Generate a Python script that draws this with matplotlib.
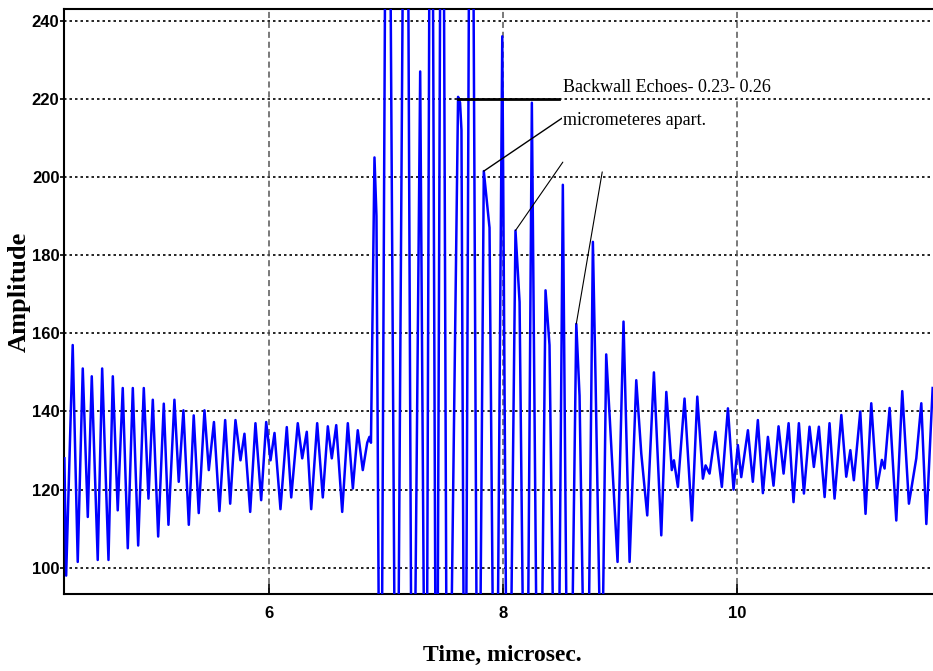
import numpy as np
import matplotlib.pyplot as plt

# -----------------------------
# Data read off the A-scan (extrema of the trace, time in microsec)
# clipped burst peaks / troughs lie outside the view, heights estimated
# -----------------------------
t_us = [
    4.246, 4.261, 4.317, 4.360, 4.403, 4.446, 4.480, 4.531, 4.569, 4.623,
    4.660, 4.702, 4.745, 4.788, 4.831, 4.877, 4.925, 4.965, 5.002, 5.048,
    5.096, 5.136, 5.187, 5.224, 5.264, 5.310, 5.352, 5.395, 5.444, 5.481,
    5.525, 5.572,
    5.621, 5.664, 5.709, 5.752, 5.786, 5.835, 5.880, 5.929, 5.972, 6.009,
    6.043, 6.094, 6.148, 6.186, 6.242, 6.280, 6.319, 6.357, 6.408, 6.456,
    6.499, 6.533, 6.571, 6.622, 6.670, 6.713, 6.755, 6.798, 6.836, 6.855,
    6.868,
    6.898, 6.915, 6.950, 7.009, 7.086, 7.168, 7.223, 7.289, 7.339, 7.382,
    7.429, 7.476, 7.523, 7.613, 7.630, 7.642, 7.672, 7.724, 7.784, 7.833,
    7.882, 7.933, 7.991, 8.040, 8.104, 8.139, 8.194, 8.244, 8.305, 8.361,
    8.395, 8.458, 8.509, 8.560, 8.624, 8.652, 8.712, 8.766, 8.789, 8.840,
    8.880, 8.909, 8.977, 9.028,
    9.080, 9.137, 9.180, 9.231, 9.288, 9.351, 9.394, 9.441, 9.459, 9.493,
    9.550, 9.613, 9.659, 9.707, 9.730, 9.764, 9.813, 9.869, 9.921, 9.969,
    10.006, 10.035, 10.092, 10.134, 10.177, 10.220, 10.263, 10.311, 10.354,
    10.397, 10.440, 10.482, 10.528, 10.571, 10.619, 10.656, 10.699, 10.748,
    10.790, 10.833, 10.891, 10.933, 10.968, 10.998, 11.053, 11.098, 11.147,
    11.195, 11.238, 11.261, 11.304, 11.361, 11.412, 11.469, 11.532, 11.575,
    11.618, 11.672,
]
amplitude = [
    128, 98, 157, 101.5, 151, 113, 149, 102, 151, 102,
    149, 114.7, 146, 105, 146, 105.7, 146, 117.7, 143, 108,
    142, 111, 143, 122, 140.3, 111, 139, 114, 140.3, 125,
    137.3, 114.5,
    137.8, 116.4, 137.8, 127.5, 134.3, 114.3, 137, 117.3, 137.3, 127.5,
    134.5, 115, 136, 118, 137, 128, 134.8, 115, 137, 118,
    136.2, 128, 136.5, 114.3, 137, 120.3, 135.2, 125, 132, 133.5,
    132,
    205, 190, 5, 380, 3, 380, 8, 227, 5, 380,
    5, 380, 5, 220.5, 219, 212, 5, 380, 5, 201.5,
    187, 5, 236, 10, 186.3, 168, 10, 219, 8, 171,
    157, 10, 198, 15, 162.4, 144, 30, 183.4, 148, 60,
    154.6, 139, 101.5, 163,
    101.5, 148, 129.2, 113.4, 150, 108.3, 145, 125, 127.5, 120.7,
    143.3, 112.1, 143.8, 122.8, 126.2, 124.1, 134.8, 120.7, 140.8, 120,
    131.4, 123.2, 135.2, 122, 137.8, 119.1, 133.5, 121, 136.2,
    124.1, 137, 116.8, 137, 119, 136.1, 125.8, 136.1, 118.1,
    137, 117.7, 139.1, 123.3, 130.1, 122.4, 140, 113.8, 142.1,
    120.3, 127.6, 125.4, 140.9, 112.1, 145.2, 116.4, 128, 142.1,
    111.2, 146,
]

x_ticks = [6, 8, 10]
y_ticks = [100, 120, 140, 160, 180, 200, 220, 240]

# annotation: echo peaks and where the pointer lines end near the note
echo_t = [7.833, 8.104, 8.624]
echo_amp = [201.5, 186.3, 162.4]
pointer_t = [8.509, 8.509, 8.846]
pointer_amp = [215.2, 203.8, 201.3]
bar_t = [7.611, 8.480]
bar_amp = [220, 220]
note_lines = ["Backwall Echoes- 0.23- 0.26", "micrometeres apart."]
note_t = 8.509
note_amp = [221.7, 213.2]

# -----------------------------
# Figure
# -----------------------------
fig = plt.figure(figsize=(9.33, 6.71), dpi=100)
ax = fig.add_axes([0.0689, 0.1148, 0.9311, 0.8713])

ax.plot(t_us, amplitude, color="#0000ff", lw=1.8, zorder=3)

ax.set_xlim(4.245, 11.675)
ax.set_ylim(93.3, 242.9)
ax.set_xticks(x_ticks)
ax.set_yticks(y_ticks)

# grid: dotted black rows, dashed grey columns
for yv in y_ticks:
    ax.axhline(yv, color="black", lw=1.2, ls=(0, (1.5, 1.8)), zorder=1)
for xv in x_ticks:
    ax.axvline(xv, color="#555555", lw=1.1, ls=(0, (4, 2.5)), zorder=1)

tick_font = ["Liberation Sans Narrow", "Liberation Sans"]
for lab in ax.get_xticklabels() + ax.get_yticklabels():
    lab.set_fontfamily(tick_font)
    lab.set_fontweight("bold")
    lab.set_fontsize(12)
ax.tick_params(axis="x", direction="in", length=7, width=1.2, pad=9)
ax.tick_params(axis="y", direction="out", length=3, width=1.2, pad=0.5)

for side in ["left", "bottom", "top"]:
    ax.spines[side].set_linewidth(1.5)
ax.spines["right"].set_visible(False)

ax.set_xlabel("Time, microsec.", fontfamily="Liberation Serif",
              fontweight="bold", fontsize=17)
ax.xaxis.set_label_coords(0.504, -0.088)
ax.set_ylabel("Amplitude", fontfamily="Liberation Serif",
              fontweight="bold", fontsize=19)
ax.yaxis.set_label_coords(-0.039, 0.517)

# -----------------------------
# Annotation
# -----------------------------
ax.plot(bar_t, bar_amp, color="black", lw=2, zorder=4)
for i in range(len(echo_t)):
    ax.annotate("", xy=(echo_t[i], echo_amp[i]),
                xytext=(pointer_t[i], pointer_amp[i]),
                arrowprops=dict(arrowstyle="-", color="black",
                                lw=1.0 if i == 0 else 0.8,
                                shrinkA=0, shrinkB=0),
                zorder=4)
for line, yv in zip(note_lines, note_amp):
    ax.text(note_t, yv, line, fontfamily="Liberation Serif", fontsize=13,
            va="baseline", ha="left", zorder=5,
            bbox=dict(facecolor="white", edgecolor="none", pad=0.5))

fig.savefig("out.png", dpi=100)
